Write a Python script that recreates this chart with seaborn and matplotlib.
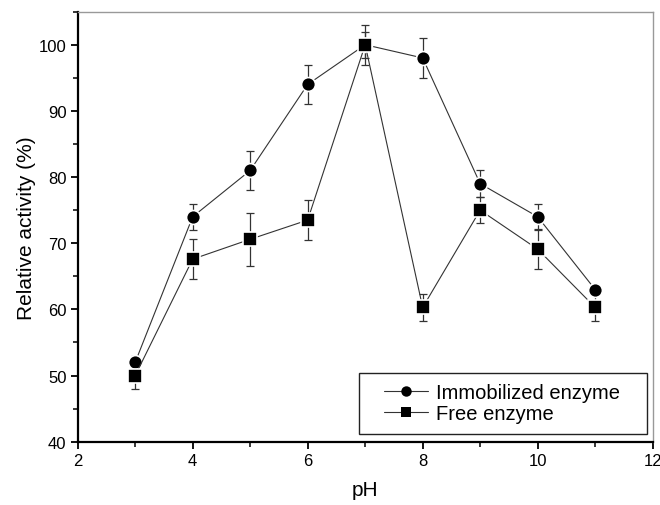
import matplotlib
matplotlib.use("Agg")
import matplotlib.pyplot as plt
import seaborn as sns
import pandas as pd
from matplotlib.ticker import MultipleLocator
from matplotlib.patches import Rectangle

# Data
ph = [3, 4, 5, 6, 7, 8, 9, 10, 11]
immobilized = [52, 74, 81, 94, 100, 98, 79, 74, 63]
immobilized_err = [1, 2, 3, 3, 3, 3, 2, 2, 0.5]
free = [50, 67.6, 70.6, 73.5, 100, 60.3, 75, 69.1, 60.3]
free_err = [2, 3, 4, 3, 2, 2, 2, 3, 2]

df = pd.DataFrame({
    'pH': ph * 2,
    'activity': immobilized + free,
    'err': immobilized_err + free_err,
    'enzyme': ['Immobilized enzyme'] * len(ph) + ['Free enzyme'] * len(ph),
})

sns.set_style("ticks")
plt.rcParams['font.family'] = ['Liberation Sans', 'DejaVu Sans']
plt.rcParams['text.color'] = 'black'
plt.rcParams['axes.labelcolor'] = 'black'

fig = plt.figure(figsize=(6.6, 5.06), dpi=100)
ax = fig.add_axes([0.1177, 0.125, 0.8712, 0.85])

# Error bars
for name, grp in df.groupby('enzyme', sort=False):
    ax.errorbar(grp['pH'], grp['activity'], yerr=grp['err'], fmt='none',
                ecolor='#333333', elinewidth=0.9, capsize=3, capthick=0.9, zorder=2)

# Lines with markers
sns.lineplot(data=df, x='pH', y='activity', hue='enzyme', style='enzyme',
             markers={'Immobilized enzyme': 'o', 'Free enzyme': 's'},
             dashes=False, palette={'Immobilized enzyme': 'black', 'Free enzyme': 'black'},
             markersize=10, markeredgecolor='white', markeredgewidth=1.2,
             linewidth=0.8, ax=ax, zorder=3)
for line in ax.get_lines():
    line.set_color('#333333')
    line.set_markerfacecolor('black')

ax.set_xlim(2, 12)
ax.set_ylim(40, 105)
ax.xaxis.set_major_locator(MultipleLocator(2))
ax.xaxis.set_minor_locator(MultipleLocator(1))
ax.yaxis.set_minor_locator(MultipleLocator(5))
ax.set_yticks([40, 50, 60, 70, 80, 90, 100])

ax.tick_params(axis='both', which='major', direction='out', length=5, width=1.3,
               labelsize=12, colors='black', top=False, right=False, pad=3)
ax.tick_params(axis='both', which='minor', direction='out', length=3.5, width=1.3,
               top=False, right=False)

for side in ['left', 'bottom']:
    ax.spines[side].set_color('black')
    ax.spines[side].set_linewidth(1.6)
for side in ['top', 'right']:
    ax.spines[side].set_visible(True)
    ax.spines[side].set_color('#999999')
    ax.spines[side].set_linewidth(1.0)

ax.set_xlabel('pH', fontsize=15, labelpad=9)
ax.set_ylabel('Relative activity (%)', fontsize=15, labelpad=2)

# Legend (box drawn separately for Origin-like padding)
handles, labels = ax.get_legend_handles_labels()
leg = ax.legend(handles, labels, loc='upper left', fontsize=14.5, frameon=False,
                handlelength=2.2, handletextpad=0.35, borderpad=0, borderaxespad=0,
                labelspacing=0.12, bbox_to_anchor=(0.533, 0.137))
for h in leg.legend_handles:
    h.set_markersize(7.5)
    h.set_markeredgewidth(0)
    h.set_color('#333333')
    h.set_markerfacecolor('black')
for t in leg.get_texts():
    t.set_color('black')
ax.add_patch(Rectangle((0.489, 0.018), 0.501, 0.142, transform=ax.transAxes,
                       fill=True, facecolor='white', edgecolor='#222222',
                       linewidth=1.0, zorder=4))
leg.set_zorder(5)

fig.savefig('out.png', dpi=100)
